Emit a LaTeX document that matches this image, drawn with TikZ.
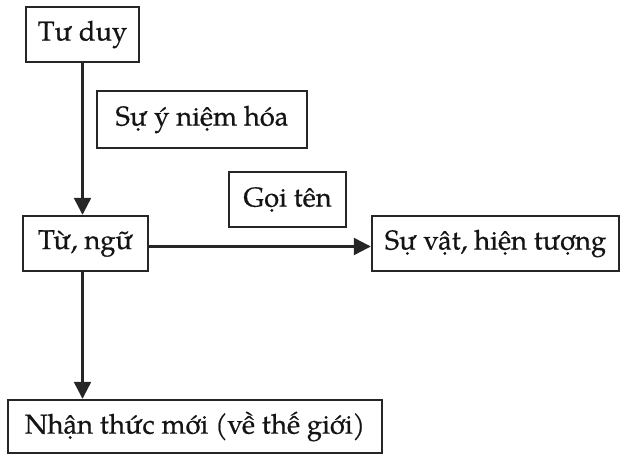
\documentclass[tikz,border=0pt]{standalone}
\usepackage{fontspec}
\setmainfont{texgyrepagella-regular.otf}
\newfontfamily\heavyfont[FakeBold=0.6]{texgyrepagella-regular.otf}
\usetikzlibrary{arrows.meta}
\begin{document}
\begin{tikzpicture}[x=1pt,y=-1pt,
  box/.style={draw=black!85,line width=2.4pt,inner sep=0pt,
    font=\heavyfont\fontsize{27.3}{31}\selectfont,text=black!92},
  link/.style={draw=black!85,line width=2.4pt},
  arr/.style={link,-{Triangle[length=17pt,width=17pt]}}]
\useasboundingbox (0,0) rectangle (621,454);
% boxes
\node[box,minimum width=113pt,minimum height=55pt] (tuduy) at (82.5,34.5) {Tư duy};
\node[box,minimum width=210pt,minimum height=57pt] (ynh) at (202,119.5) {Sự ý niệm hóa};
\node[box,minimum width=117pt,minimum height=55pt] (goiten) at (287.5,199.5) {Gọi tên};
\node[box,minimum width=125pt,minimum height=55pt] (tungu) at (85.5,243.5) {Từ, ngữ};
\node[box,minimum width=247pt,minimum height=55pt] (suvat) at (495.5,243.5) {Sự vật, hiện tượng};
\node[box,minimum width=374pt,minimum height=53pt] (nhan) at (195,426.5) {Nhận thức mới (về thế giới)};
% connectors
\coordinate (a1) at (tuduy.south);
\draw[arr] (a1) -- (a1 |- tungu.north);
\draw[arr] (a1 |- tungu.south) -- (a1 |- nhan.north);
\draw[arr] ([yshift=-3pt]tungu.east) -- ([yshift=-3pt]tungu.east -| suvat.west);
\end{tikzpicture}
\end{document}
